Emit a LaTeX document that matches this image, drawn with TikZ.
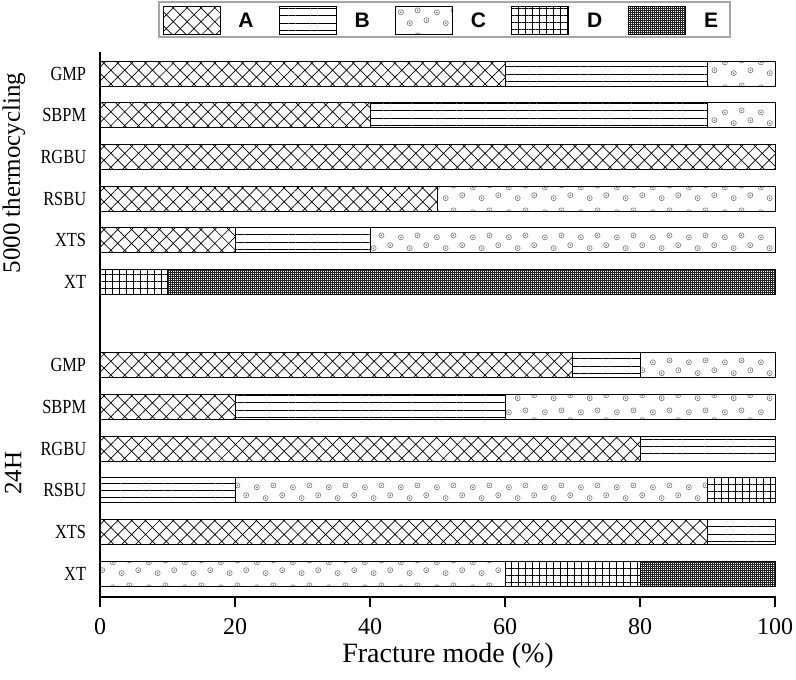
\documentclass[tikz,border=0pt]{standalone}
\usepackage{fontspec}
\setmainfont{Liberation Serif}
\setsansfont{Liberation Sans}
\usepackage{tikz}
\usetikzlibrary{patterns}
\usetikzlibrary{patterns.meta}

% little grey rings for mode C
\pgfdeclarepatternformonly{rings}{\pgfqpoint{0pt}{0pt}}{\pgfqpoint{36pt}{25pt}}{\pgfqpoint{36pt}{25pt}}{%
  \pgfsetlinewidth{0.6pt}%
  \pgfpathcircle{\pgfqpoint{5pt}{18pt}}{2.6pt}%
  \pgfpathcircle{\pgfqpoint{14pt}{7pt}}{2.6pt}%
  \pgfpathcircle{\pgfqpoint{22pt}{20pt}}{2.6pt}%
  \pgfpathcircle{\pgfqpoint{31pt}{10pt}}{2.6pt}%
  \pgfusepath{stroke}%
  \pgfpathcircle{\pgfqpoint{5pt}{18pt}}{0.9pt}%
  \pgfpathcircle{\pgfqpoint{14pt}{7pt}}{0.9pt}%
  \pgfpathcircle{\pgfqpoint{22pt}{20pt}}{0.9pt}%
  \pgfpathcircle{\pgfqpoint{31pt}{10pt}}{0.9pt}%
  \pgfusepath{fill}%
}

\tikzset{
  modeA/.style={pattern={Hatch[angle=45,distance=9.8pt,line width=0.7pt]}},
  modeB/.style={pattern={Lines[angle=0,distance=7.3pt,line width=0.7pt]}},
  modeC/.style={pattern=rings, pattern color=black!55},
  modeD/.style={pattern={Hatch[angle=0,distance=7pt,line width=0.65pt]}},
  modeE/.style={pattern={Hatch[angle=0,distance=2pt,line width=0.45pt]}, pattern color=black!85},
  seg/.style={draw=black, line width=1pt},
  ticklab/.style={font=\fontsize{24}{24}\selectfont},
  catlab/.style={font=\fontsize{20}{20}\selectfont, xscale=0.82, anchor=east},
  grouplab/.style={font=\fontsize{25}{25}\selectfont, rotate=90},
  leglab/.style={font=\sffamily\bfseries\fontsize{21}{21}\selectfont},
}

\begin{document}
\begin{tikzpicture}[x=1pt,y=-1pt]
\useasboundingbox (0,0) rectangle (796,680);
%
\def\slot{41.67}
\def\px{6.75}

%
\foreach \k/\a/\b/\m in {
  0/0/60/modeA, 0/60/90/modeB, 0/90/100/modeC,
  1/0/40/modeA, 1/40/90/modeB, 1/90/100/modeC,
  2/0/100/modeA,
  3/0/50/modeA, 3/50/100/modeC,
  4/0/20/modeA, 4/20/40/modeB, 4/40/100/modeC,
  5/0/10/modeD, 5/10/100/modeE,
  7/0/70/modeA, 7/70/80/modeB, 7/80/100/modeC,
  8/0/20/modeA, 8/20/60/modeB, 8/60/100/modeC,
  9/0/80/modeA, 9/80/100/modeB,
  10/0/20/modeB, 10/20/90/modeC, 10/90/100/modeD,
  11/0/90/modeA, 11/90/100/modeB,
  12/0/60/modeC, 12/60/80/modeD, 12/80/100/modeE}
  \draw[seg,\m] ({100+\px*\a},{61+\slot*\k}) rectangle ({100+\px*\b},{86+\slot*\k});

%
\foreach \k/\lab in {0/GMP,1/SBPM,2/RGBU,3/RSBU,4/XTS,5/XT,
  7/GMP,8/SBPM,9/RGBU,10/RSBU,11/XTS,12/XT}
  \node[catlab] (cat\k) at (89,{73.5+\slot*\k}) {\lab};

%
\draw[line width=1.5pt] (100,52) -- (100,597) -- (776,597);
\foreach \v in {0,20,...,100}{
  \draw[line width=1.5pt] ({100+\px*\v},597) -- ({100+\px*\v},607);
  \node[ticklab] (tick\v) at ({100+\px*\v},627) {\v};
}

%
\node[font=\fontsize{28}{28}\selectfont] (xlabel) at (448,656) {Fracture mode (\%)};
\node[grouplab] (thermo) at (14,173) {5000 thermocycling};
\node[grouplab] (day) at (13,473) {24H};

%
\draw[draw=gray!70, line width=1.2pt] (159,2) rectangle (730,37);
\foreach \i/\lab/\m in {0/A/modeA,1/B/modeB,2/C/modeC,3/D/modeD,4/E/modeE}{
  \draw[seg,\m] ({163+116.25*\i},6) rectangle ++(57,28);
  \node[leglab] (leg\lab) at ({246+116.25*\i},20) {\lab};
}

\end{tikzpicture}
\end{document}
